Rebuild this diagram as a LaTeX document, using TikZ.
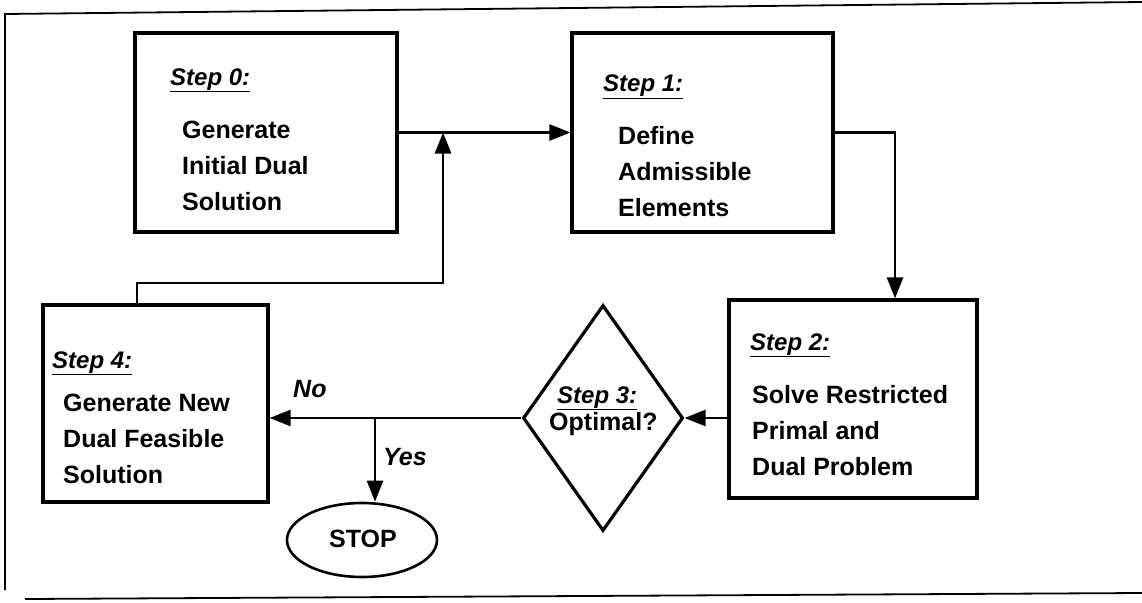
\documentclass[tikz,border=0pt]{standalone}
\usepackage{fontspec}
\setmainfont{Liberation Sans}
\usetikzlibrary{arrows.meta,shapes.geometric,fit}

\begin{document}
\begin{tikzpicture}[x=1pt,y=-1pt,
  stepbox/.style={draw,line width=3.2pt,inner sep=0pt},
  steplabel/.style={anchor=base west,inner sep=0pt,font=\fontsize{24}{28}\selectfont\bfseries\itshape},
  % the base anchor of a multi-line node sits on its last line
  steptext/.style={anchor=base west,inner sep=0pt,align=left,font=\fontsize{25}{36}\selectfont\bfseries},
  conn/.style={draw,line width=2.6pt,-{Triangle[length=21pt,width=16pt]}},
  answer/.style={anchor=base west,inner sep=0pt,font=\fontsize{25}{28}\selectfont\bfseries\itshape},
  frame/.style={draw,line width=1.8pt}]

\useasboundingbox (0,0) rectangle (1142,602);

% outer frame
\draw[frame] (1142,2) -- (5,14) -- (5,590);
\draw[frame] (25,599) -- (1142,593);

% step boxes
\node[stepbox,fit={(135,33) (397,232)}] (s0) {};
\node[stepbox,fit={(572,33) (833,232)}] (s1) {};
\node[stepbox,fit={(729,300) (977,498)}] (s2) {};
\node[stepbox,fit={(43,305) (268,502)}] (s4) {};
\node[draw,diamond,line width=3.2pt,inner sep=0pt,minimum width=160pt,minimum height=226pt] (d) at (603,418) {};
\node[draw,ellipse,line width=2.6pt,minimum width=150pt,minimum height=74pt,inner sep=0pt] (stop) at (362,540) {};

% texts
\node[steplabel] (l0) at (170,85) {\underline{Step 0:}};
\node[steptext]  (t0) at (182,210) {Generate\\Initial Dual\\Solution};
\node[steplabel] (l1) at (603,92) {\underline{Step 1:}};
\node[steptext]  (t1) at (618,216) {Define\\Admissible\\Elements};
\node[steplabel] (l2) at (750,350) {\underline{Step 2:}};
\node[steptext]  (t2) at (752,475) {Solve Restricted\\Primal and\\Dual Problem};
\node[steplabel] (l4) at (52,368) {\underline{Step 4:}};
\node[steptext]  (t4) at (63,483) {Generate New\\Dual Feasible\\Solution};
\node[steplabel] (l3) at (557,403) {\underline{Step 3:}};
\node[anchor=base west,inner sep=0pt,font=\fontsize{25}{28}\selectfont\bfseries] (t3) at (549,430) {Optimal?};
\node[anchor=base,inner sep=0pt,font=\fontsize{25}{28}\selectfont\bfseries] (st) at (363,547) {STOP};
\node[answer] (no) at (293,397) {No};
\node[answer] (yes) at (383,465) {Yes};

% connectors
\coordinate (j1) at (443,132.5);
\coordinate (fa) at (137,283);
\coordinate (fb) at (443,283);
\coordinate (c1) at (895,132.5);
\coordinate (jy) at (375,418);

\draw[conn] (s0.east) -- (s1.west);
\draw[conn] (s4.north -| fa) -- (fa) -- (fb) -- (j1);
\draw[conn] (s1.east) -- (c1) -- (s2.north -| c1);
\draw[conn] (s2.west |- d.east) -- (d.east);
\draw[conn] (d.west) -- (s4.east |- d.west);
\draw[conn] (jy) -- (jy |- stop.north);
\end{tikzpicture}
\end{document}
